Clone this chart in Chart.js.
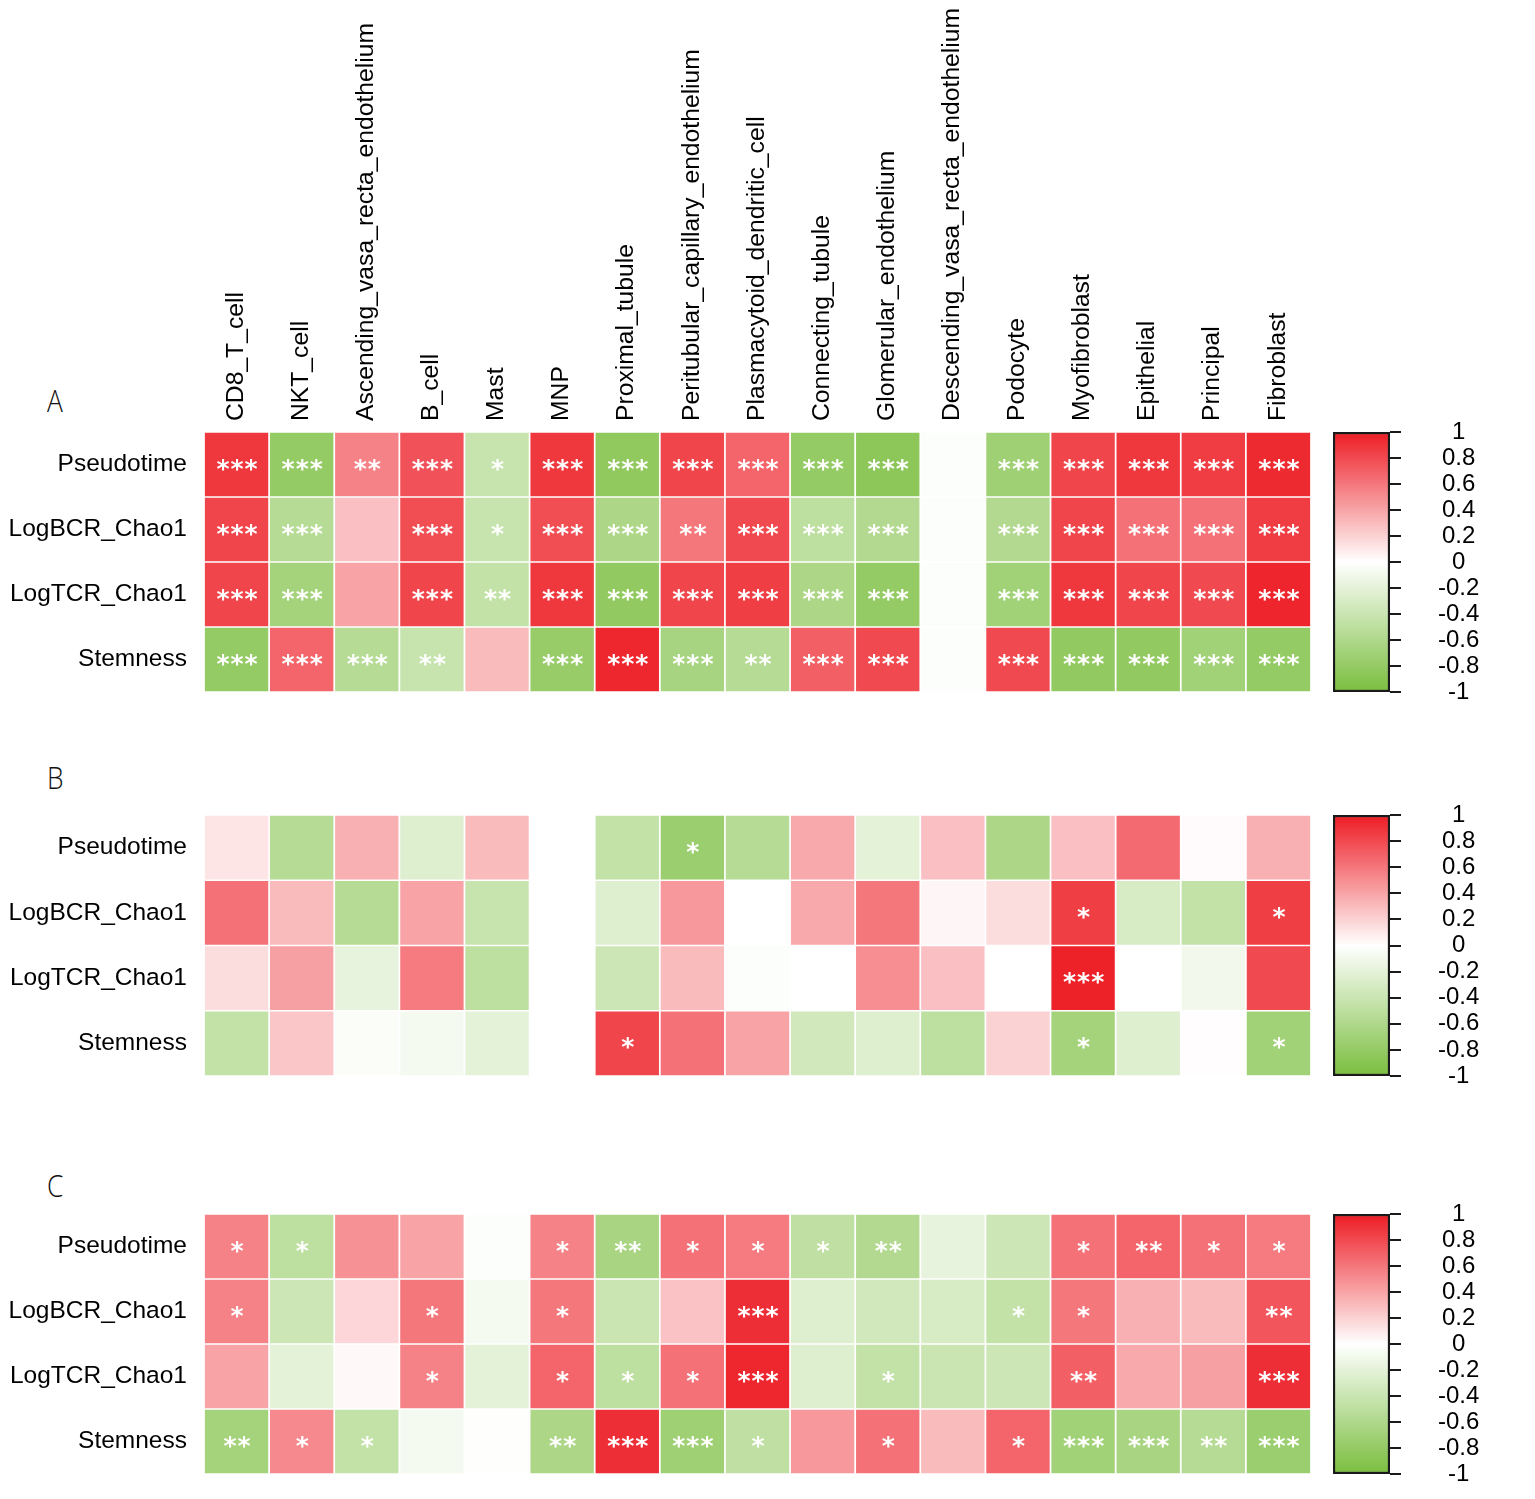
<!DOCTYPE html>
<html>
<head>
<meta charset="utf-8">
<script src="https://cdn.jsdelivr.net/npm/chart.js@4.4.1/dist/chart.umd.min.js"></script>
<style>
  html, body { margin:0; padding:0; background:#fff; }
  body { width:1535px; height:1499px; position:relative; overflow:hidden; }
  .box { position:absolute; }
  .plabel { position:absolute; font-family:"Open Sans", sans-serif; font-weight:300; font-size:31px; line-height:1; color:#111; transform:scaleX(0.85); transform-origin:left top; }
</style>
</head>
<body>
<div class="plabel" style="left:47px;top:385px;">A</div>
<div class="plabel" style="left:47px;top:762px;">B</div>
<div class="plabel" style="left:47px;top:1170px;">C</div>

<div class="box" style="left:0;top:0;width:1320px;height:712px;"><canvas id="hmA"></canvas></div>
<div class="box" style="left:0;top:795px;width:1320px;height:301px;"><canvas id="hmB"></canvas></div>
<div class="box" style="left:0;top:1194px;width:1320px;height:300px;"><canvas id="hmC"></canvas></div>

<div class="box" style="left:1320px;top:372px;width:215px;height:380px;"><canvas id="cbA"></canvas></div>
<div class="box" style="left:1320px;top:755px;width:215px;height:381px;"><canvas id="cbB"></canvas></div>
<div class="box" style="left:1320px;top:1154px;width:215px;height:380px;"><canvas id="cbC"></canvas></div>

<script>
// ---------------- DATA ----------------
const columns = ['CD8_T_cell','NKT_cell','Ascending_vasa_recta_endothelium','B_cell','Mast','MNP',
  'Proximal_tubule','Peritubular_capillary_endothelium','Plasmacytoid_dendritic_cell','Connecting_tubule',
  'Glomerular_endothelium','Descending_vasa_recta_endothelium','Podocyte','Myofibroblast','Epithelial',
  'Principal','Fibroblast'];
const rows = ['Pseudotime','LogBCR_Chao1','LogTCR_Chao1','Stemness'];
const colorbarTicks = [1, 0.8, 0.6, 0.4, 0.2, 0, -0.2, -0.4, -0.6, -0.8, -1];

// Panel A correlation values (rows x columns)
const valuesA = [
  [0.88,-0.80,0.55,0.76,-0.42,0.88,-0.83,0.82,0.68,-0.80,-0.86,-0.02,-0.72,0.82,0.88,0.86,0.94],
  [0.82,-0.55,0.28,0.78,-0.42,0.78,-0.62,0.60,0.80,-0.50,-0.58,-0.02,-0.58,0.82,0.62,0.62,0.86],
  [0.82,-0.68,0.40,0.82,-0.45,0.88,-0.82,0.82,0.85,-0.62,-0.80,-0.02,-0.70,0.88,0.82,0.80,0.96],
  [-0.80,0.68,-0.55,-0.42,0.30,-0.78,0.95,-0.66,-0.55,0.70,0.80,-0.02,0.80,-0.82,-0.82,-0.70,-0.80]
];
const starsA = [
  [3,3,2,3,1,3,3,3,3,3,3,0,3,3,3,3,3],
  [3,3,0,3,1,3,3,2,3,3,3,0,3,3,3,3,3],
  [3,3,0,3,2,3,3,3,3,3,3,0,3,3,3,3,3],
  [3,3,3,2,0,3,3,3,2,3,3,0,3,3,3,3,3]
];

// Panel B (null = no value)
const valuesB = [
  [0.12,-0.55,0.35,-0.25,0.30,null,-0.45,-0.75,-0.55,0.38,-0.20,0.28,-0.62,0.28,0.65,0.02,0.35],
  [0.62,0.30,-0.55,0.40,-0.42,null,-0.25,0.45,0.00,0.38,0.60,0.04,0.15,0.85,-0.30,-0.45,0.85],
  [0.15,0.42,-0.18,0.58,-0.50,null,-0.38,0.30,-0.02,0.00,0.50,0.28,0.00,0.98,0.00,-0.10,0.80],
  [-0.45,0.25,-0.03,-0.08,-0.20,null,0.82,0.62,0.40,-0.35,-0.25,-0.50,0.20,-0.68,-0.25,0.01,-0.70]
];
const starsB = [
  [0,0,0,0,0,0,0,1,0,0,0,0,0,0,0,0,0],
  [0,0,0,0,0,0,0,0,0,0,0,0,0,1,0,0,1],
  [0,0,0,0,0,0,0,0,0,0,0,0,0,3,0,0,0],
  [0,0,0,0,0,0,1,0,0,0,0,0,0,1,0,0,1]
];

// Panel C
const valuesC = [
  [0.55,-0.50,0.48,0.40,-0.02,0.55,-0.65,0.62,0.58,-0.48,-0.58,-0.18,-0.38,0.62,0.68,0.62,0.58],
  [0.55,-0.38,0.18,0.60,-0.08,0.60,-0.40,0.27,0.92,-0.25,-0.35,-0.30,-0.45,0.60,0.35,0.30,0.75],
  [0.40,-0.20,0.03,0.55,-0.20,0.68,-0.50,0.62,0.95,-0.25,-0.45,-0.40,-0.38,0.70,0.38,0.42,0.92],
  [-0.68,0.52,-0.45,-0.08,-0.01,-0.62,0.92,-0.72,-0.48,0.45,0.62,0.30,0.68,-0.70,-0.65,-0.55,-0.75]
];
const starsC = [
  [1,1,0,0,0,1,2,1,1,1,2,0,0,1,2,1,1],
  [1,0,0,1,0,1,0,0,3,0,0,0,1,1,0,0,2],
  [0,0,0,1,0,1,1,1,3,0,1,0,0,2,0,0,3],
  [2,1,1,0,0,2,3,3,1,0,1,0,1,3,3,2,3]
];

// ---------------- COLOURS ----------------
const RED = [237, 28, 36], GREEN = [122, 190, 62], WHITE = [255, 255, 255];
function colorFor(v) {
  const end = v >= 0 ? RED : GREEN;
  const t = Math.min(1, Math.abs(v));
  const c = WHITE.map((w, i) => Math.round(w + (end[i] - w) * t));
  return `rgb(${c[0]},${c[1]},${c[2]})`;
}

const FONT = '"Liberation Sans", Arial, sans-serif';

const starPlugin = {
  id: 'stars',
  afterDatasetsDraw(chart, args, opts) {
    const { ctx, scales } = chart;
    const xs = scales.x, ys = scales.y;
    ctx.save();
    ctx.fillStyle = '#fff';
    ctx.font = 'bold 25px "DejaVu Sans", sans-serif';
    if ('letterSpacing' in ctx) ctx.letterSpacing = '1px';
    ctx.textAlign = 'center';
    ctx.textBaseline = 'alphabetic';
    (opts.stars || []).forEach((row, r) => row.forEach((n, j) => {
      if (!n) return;
      const cx = xs.getPixelForValue(j) + 1;
      const cy = ys.getPixelForValue(r + 0.5);
      ctx.fillText('*'.repeat(n), cx, cy + 12);
    }));
    ctx.restore();
  }
};

function makeHeatmap(id, values, stars, showTop, top, bottomPad) {
  const datasets = rows.map((name, r) => ({
    label: name,
    data: values[r].map(v => v === null ? null : [r, r + 1]),
    backgroundColor: values[r].map(v => v === null ? 'rgba(0,0,0,0)' : colorFor(v)),
    borderColor: '#ffffff',
    borderWidth: 1.2,
    borderSkipped: false,
    grouped: false,
    barPercentage: 1,
    categoryPercentage: 1
  }));
  return new Chart(document.getElementById(id), {
    type: 'bar',
    data: { labels: columns, datasets },
    plugins: [starPlugin],
    options: {
      responsive: true,
      maintainAspectRatio: false,
      animation: false,
      events: [],
      layout: { padding: { left: 0, right: 9, top: showTop ? 0 : top, bottom: bottomPad } },
      plugins: { legend: { display: false }, tooltip: { enabled: false }, stars: { stars } },
      scales: {
        x: {
          type: 'category',
          position: 'top',
          display: showTop,
          offset: true,
          grid: { display: false, drawTicks: false },
          border: { display: false },
          ticks: {
            autoSkip: false, maxRotation: 90, minRotation: 90, padding: 11, labelOffset: 29,
            color: '#000', font: { family: FONT, size: 24.7 }
          },
          afterFit(s) { if (showTop) s.height = top; }
        },
        y: {
          type: 'linear',
          min: 0, max: 4, reverse: true,
          grid: { display: true, drawOnChartArea: false, drawTicks: true, tickLength: 17, color: 'rgba(0,0,0,0)' },
          border: { display: false },
          afterBuildTicks(s) { s.ticks = [0.5, 1.5, 2.5, 3.5].map(v => ({ value: v })); },
          ticks: {
            padding: 0, autoSkip: false, color: '#000', font: { family: FONT, size: 24.5 },
            callback: (v) => rows[Math.floor(v)]
          },
          afterFit(s) { s.width = 204; }
        }
      }
    }
  });
}

function makeColorbar(id, padTop, padBottom) {
  return new Chart(document.getElementById(id), {
    type: 'bar',
    data: {
      labels: [''],
      datasets: [{
        data: [[-1, 1]],
        backgroundColor(ctx) {
          const chart = ctx.chart;
          const ys = chart.scales.y;
          if (!chart.chartArea || !ys) return '#fff';
          const g = chart.ctx.createLinearGradient(0, ys.getPixelForValue(-1), 0, ys.getPixelForValue(1));
          for (let k = 0; k <= 40; k++) {
            const v = -1 + k / 20;
            g.addColorStop(k / 40, colorFor(v));
          }
          return g;
        },
        borderColor: '#1a1a1a',
        borderWidth: 2.5,
        borderSkipped: false,
        barPercentage: 1,
        categoryPercentage: 1
      }]
    },
    options: {
      responsive: true,
      maintainAspectRatio: false,
      animation: false,
      events: [],
      layout: { padding: { left: 13, right: 0, top: padTop, bottom: padBottom } },
      plugins: { legend: { display: false }, tooltip: { enabled: false } },
      scales: {
        x: { display: false },
        y: {
          type: 'linear', position: 'right', min: -1, max: 1,
          grid: { drawOnChartArea: false, drawTicks: true, tickLength: 11, color: '#1a1a1a', lineWidth: 2 },
          border: { display: false },
          afterBuildTicks(s) { s.ticks = colorbarTicks.map(v => ({ value: v })); },
          ticks: {
            autoSkip: false, crossAlign: 'center', padding: 37, color: '#000',
            font: { family: FONT, size: 24 },
            callback: (v) => String(Math.round(v * 10) / 10)
          },
          afterFit(s) { s.width = 145; }
        }
      }
    }
  });
}

makeHeatmap('hmA', valuesA, starsA, true, 432, 20);
makeHeatmap('hmB', valuesB, starsB, false, 20, 20);
makeHeatmap('hmC', valuesC, starsC, false, 20, 20);
makeColorbar('cbA', 60, 60);
makeColorbar('cbB', 60, 60);
makeColorbar('cbC', 60, 60);
</script>
</body>
</html>
